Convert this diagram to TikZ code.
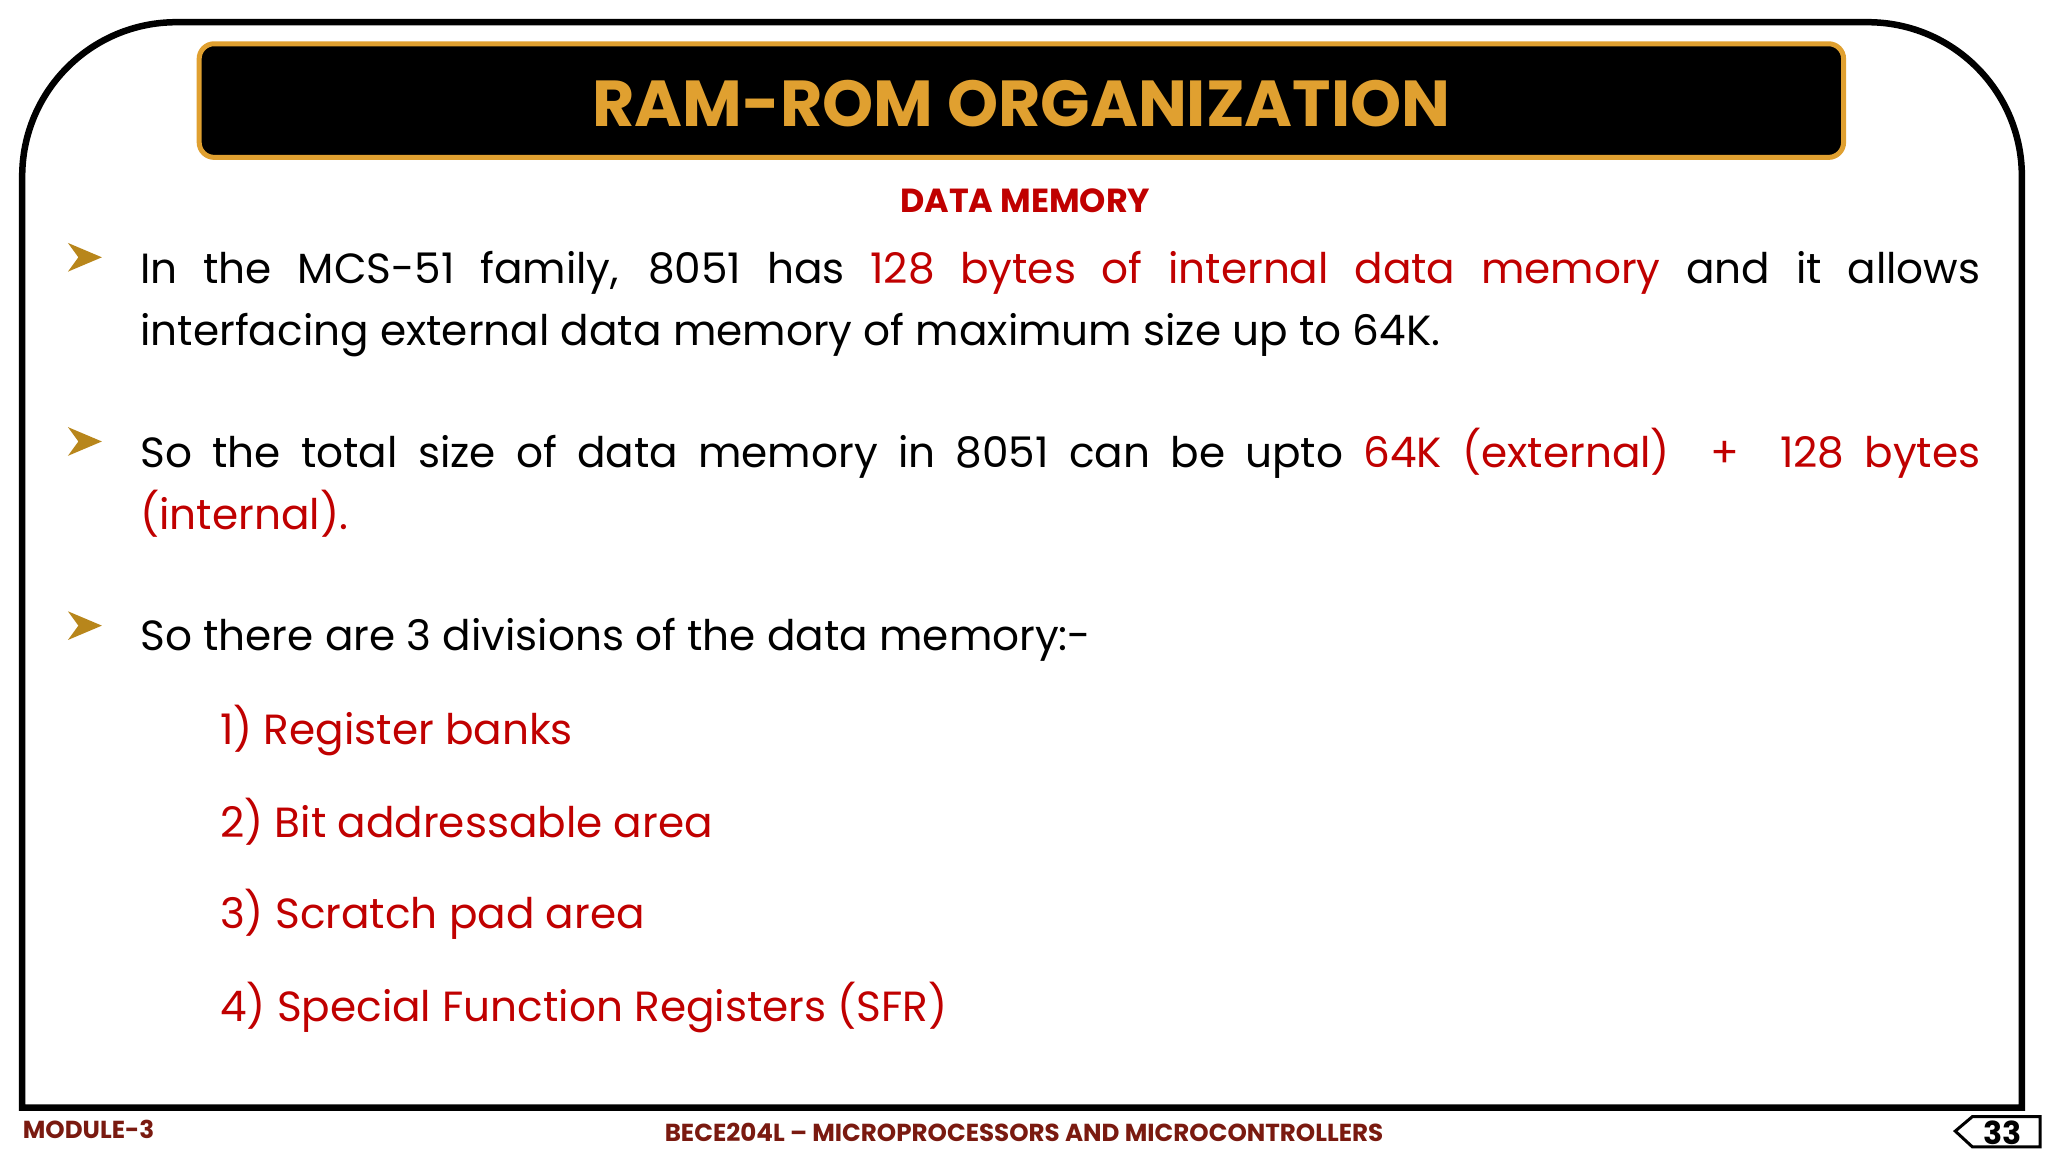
\documentclass[tikz,border=0pt]{standalone}
\usepackage{fontspec}
\setmainfont{Poppins}
\usetikzlibrary{positioning,calc}
\definecolor{gold}{HTML}{E0A030}
\definecolor{txtred}{HTML}{C00000}
\definecolor{footred}{HTML}{7A1A10}
\definecolor{bulgold}{HTML}{B8861B}
\newcommand{\bulletmark}[1]{%
  \fill[bulgold] ($(#1)+(-13,-11)$) -- ($(#1)+(13,0)$) -- ($(#1)+(-13,11)$) -- ($(#1)+(-5,0)$) -- cycle;}
\begin{document}
\begin{tikzpicture}[x=0.01306cm,y=-0.01306cm,
  every node/.style={inner sep=0pt},
  bodytext/.style={anchor=north west,text width=18.4cm,align=justify,font=\fontsize{12}{17.6}\selectfont},
  item/.style={anchor=west,text=txtred,font=\fontsize{12}{14}\selectfont},
  foot/.style={text=footred,font=\bfseries\fontsize{7}{8}\selectfont}]
\useasboundingbox (0,0) rectangle (1568,882);
% frame
\draw[line width=0.065cm] (17,848) -- (17,135) arc[start angle=180,end angle=270,radius=118] -- (1430,17) arc[start angle=270,end angle=360,radius=118] -- (1548,848) -- cycle;
% title
\node[draw=gold,fill=black,line width=0.05cm,rounded corners=0.15cm,minimum width=1259*0.01306cm,minimum height=87*0.01306cm] (title) at (782,77) {};
\node[text=gold,font=\bfseries\fontsize{18.5}{22}\selectfont] at (782,79) {RAM-ROM ORGANIZATION};
\node[text=txtred,font=\bfseries\fontsize{9.5}{12}\selectfont] (sub) at (785,154) {DATA MEMORY};
% bullets
\node[bodytext] (p1) at (107,192) {In the MCS-51 family, 8051 has \textcolor{txtred}{128 bytes of internal data memory} and it allows\linebreak interfacing external data memory of maximum size up to 64K.};
\node[bodytext] (p2) at (107,327) {So the total size of data memory in 8051 can be upto \textcolor{txtred}{64K (external) \ + \ 128 bytes\linebreak (internal).}};
\node[bodytext] (p3) at (107,473) {So there are 3 divisions of the data memory:-};
\coordinate (b1) at (65,197);
\coordinate (b2) at (65,338);
\coordinate (b3) at (65,479);
\bulletmark{b1}\bulletmark{b2}\bulletmark{b3}
\node[item] (i1) at (168,559) {1) Register banks};
\node[item] (i2) at (168,629) {2) Bit addressable area};
\node[item] (i3) at (168,700) {3) Scratch pad area};
\node[item] (i4) at (168,771) {4) Special Function Registers (SFR)};
% footer
\node[foot,anchor=west] (mod) at (17,865) {MODULE-3};
\node[foot] (course) at (784,867) {BECE204L – MICROPROCESSORS AND MICROCONTROLLERS};
\draw[line width=0.03cm] (1497,866) -- (1510,855) -- (1562,855) -- (1562,878) -- (1510,878) -- cycle;
\node[font=\bfseries\fontsize{9}{10}\selectfont] (pg) at (1533,867) {33};
\end{tikzpicture}
\end{document}
